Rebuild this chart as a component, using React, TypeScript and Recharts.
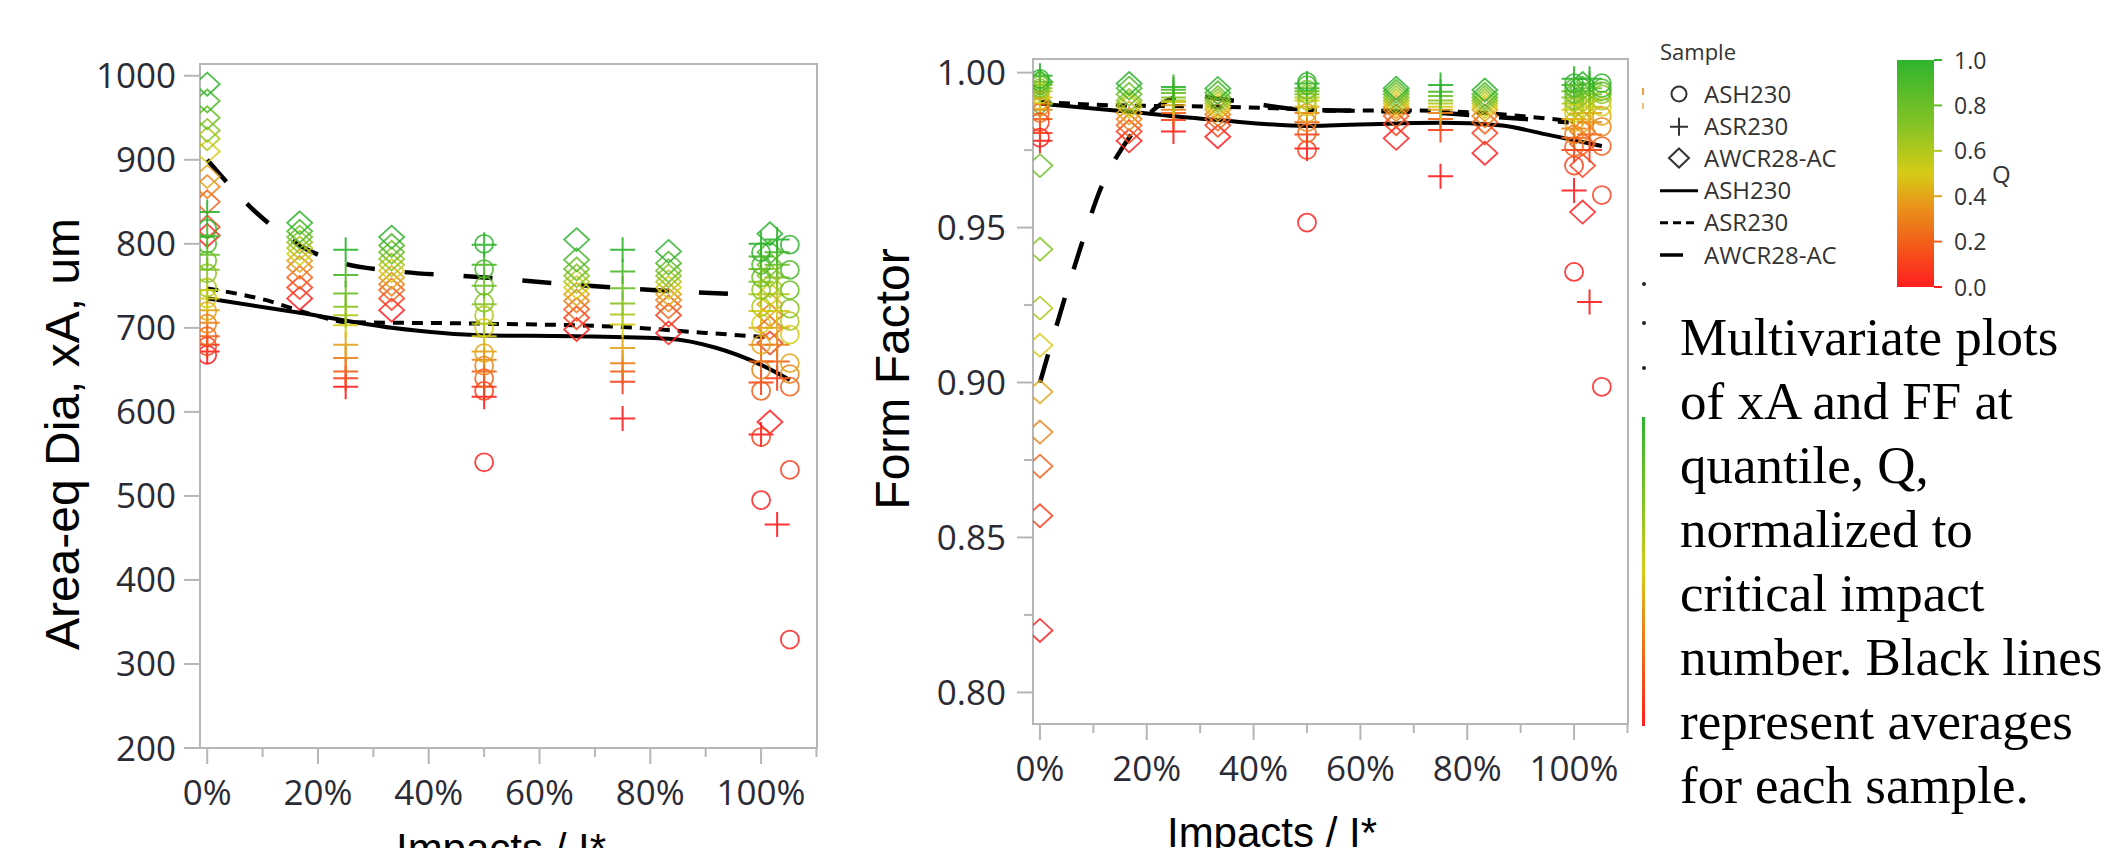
import React from "react";
import { ComposedChart, Scatter, Line, XAxis, YAxis, ReferenceArea } from "recharts";

// quantile levels used for colouring (0 = red, 1 = green)
const Q_LEVELS = [0, 0.1, 0.2, 0.3, 0.4, 0.5, 0.6, 0.7, 0.8, 0.9, 1.0];

// Impacts / I* (%) of each column per sample
const ASH_X = [0, 50, 100, 105.2];
const ASR_X = [0, 25, 50, 75, 100, 102.9];
const AWCR_X = [0, 16.7, 33.3, 66.7, 83.3, 101.6];

// Area-eq diameter xA (um), one row per column, Q low -> high
const ASH_XA = [
  [668, 678, 690, 705, 720, 735, 748, 765, 780, 800, 818],
  [540, 625, 640, 655, 670, 700, 715, 730, 750, 770, 800],
  [495, 570, 625, 650, 680, 705, 725, 745, 760, 775, 790],
  [329, 531, 630, 645, 658, 692, 708, 723, 745, 769, 799],
];
const ASR_XA = [
  [672, 680, 690, 706, 721, 735, 745, 769, 787, 809, 838],
  [630, 640, 648, 664, 680, 703, 715, 725, 741, 763, 793],
  [618, 630, 648, 662, 672, 690, 705, 728, 750, 775, 799],
  [592, 636, 648, 658, 676, 704, 716, 729, 747, 767, 793],
  [573, 635, 660, 680, 700, 720, 740, 755, 770, 785, 800],
  [466, 640, 660, 680, 700, 720, 740, 760, 775, 790, 805],
];
const AWCR_XA = [
  [810, 820, 850, 868, 880, 910, 925, 935, 950, 970, 990],
  [735, 748, 760, 772, 780, 788, 795, 802, 808, 815, 825],
  [721, 735, 745, 752, 760, 768, 775, 782, 790, 798, 808],
  [698, 712, 722, 732, 740, 748, 755, 762, 770, 781, 805],
  [694, 715, 725, 733, 740, 748, 755, 762, 768, 777, 791],
  [588, 682, 700, 715, 728, 740, 750, 762, 775, 790, 812],
];

// Form factor, same layout
const ASH_FF = [
  [0.979, 0.984, 0.987, 0.989, 0.991, 0.993, 0.994, 0.995, 0.996, 0.997, 0.998],
  [0.9516, 0.975, 0.9805, 0.984, 0.987, 0.989, 0.991, 0.993, 0.9945, 0.996, 0.997],
  [0.9357, 0.97, 0.976, 0.98, 0.984, 0.987, 0.989, 0.991, 0.993, 0.995, 0.9966],
  [0.8986, 0.9605, 0.9763, 0.9825, 0.986, 0.989, 0.991, 0.993, 0.994, 0.995, 0.9966],
];
const ASR_FF = [
  [0.978, 0.9805, 0.985, 0.988, 0.99, 0.992, 0.994, 0.995, 0.996, 0.997, 0.999],
  [0.981, 0.9847, 0.987, 0.988, 0.9895, 0.9905, 0.991, 0.992, 0.9934, 0.9945, 0.9954],
  [0.9755, 0.98, 0.984, 0.987, 0.989, 0.991, 0.992, 0.993, 0.994, 0.995, 0.9965],
  [0.9666, 0.9815, 0.985, 0.987, 0.988, 0.989, 0.99, 0.991, 0.9925, 0.9938, 0.996],
  [0.962, 0.975, 0.979, 0.982, 0.985, 0.988, 0.99, 0.992, 0.994, 0.996, 0.998],
  [0.926, 0.975, 0.98, 0.984, 0.987, 0.989, 0.991, 0.993, 0.995, 0.9965, 0.998],
];
const AWCR_FF = [
  [0.82, 0.857, 0.873, 0.884, 0.897, 0.912, 0.924, 0.943, 0.97, 0.99, 0.997],
  [0.978, 0.981, 0.983, 0.985, 0.987, 0.989, 0.99, 0.991, 0.993, 0.995, 0.9965],
  [0.9793, 0.983, 0.985, 0.9865, 0.988, 0.989, 0.99, 0.991, 0.992, 0.9935, 0.9949],
  [0.9788, 0.9835, 0.986, 0.988, 0.989, 0.99, 0.991, 0.992, 0.993, 0.994, 0.995],
  [0.974, 0.9805, 0.984, 0.986, 0.988, 0.989, 0.99, 0.991, 0.992, 0.993, 0.9944],
  [0.955, 0.97, 0.977, 0.981, 0.984, 0.987, 0.989, 0.991, 0.993, 0.995, 0.9965],
];

// averages (black lines)
const ASH_XA_AVG_X = [0, 16.7, 33.3, 50, 66.7, 83.3, 92, 100, 105.2];
const ASH_XA_AVG = [735, 718, 700, 691, 690, 687, 676, 656, 638];
const ASR_XA_AVG_X = [0, 10, 20, 25, 50, 75, 90, 101];
const ASR_XA_AVG = [747, 734, 714, 707, 705, 701, 694, 689];
const AWCR_XA_AVG_X = [0, 8.9, 16.7, 25, 33.3, 50, 66.7, 83.3, 99];
const AWCR_XA_AVG = [900, 837, 798, 776, 768, 760, 751, 744, 739];

const ASH_FF_AVG_X = [0, 16.7, 33.3, 50, 66.7, 75, 86, 95, 105.2];
const ASH_FF_AVG = [0.99, 0.9874, 0.9847, 0.9828, 0.9836, 0.9838, 0.983, 0.98, 0.9763];
const ASR_FF_AVG_X = [0, 13, 33.3, 44, 55, 67, 83, 92, 100];
const ASR_FF_AVG = [0.9906, 0.9895, 0.989, 0.9885, 0.9877, 0.9878, 0.987, 0.9857, 0.9843];
const AWCR_FF_AVG_X = [0, 7.5, 11, 16.7, 22, 27.5, 36, 50, 60, 75, 83, 99];
const AWCR_FF_AVG = [0.9, 0.943, 0.961, 0.979, 0.989, 0.9925, 0.991, 0.988, 0.9877, 0.987, 0.986, 0.984];

const X_TICKS = [0, 10, 20, 30, 40, 50, 60, 70, 80, 90, 100, 110];
const XA_TICKS = [200, 300, 400, 500, 600, 700, 800, 900, 1000];
const FF_TICKS = [0.8, 0.825, 0.85, 0.875, 0.9, 0.925, 0.95, 0.975, 1.0];
const Q_TICKS = [0, 0.2, 0.4, 0.6, 0.8, 1.0];

const CAPTION = [
  "Multivariate plots",
  "of xA and FF at",
  "quantile, Q,",
  "normalized to",
  "critical impact",
  "number. Black lines",
  "represent averages",
  "for each sample.",
];

const X_DOMAIN: [number, number] = [-1.3, 110.1];
const AXIS = "#b6b6b6";
const TICK_TEXT = "#2b2b36";
const TICK_FONT = "'Open Sans', 'Noto Sans', sans-serif";
const TITLE_FONT = "'Liberation Sans', Arial, sans-serif";

type Pt = { x: number; y: number; q: number };

function columns(xs: number[], rows: number[][]): Pt[] {
  return xs.flatMap((x, i) => rows[i].map((y, j) => ({ x, y, q: Q_LEVELS[j] })));
}
function avg(xs: number[], ys: number[]) {
  return xs.map((x, i) => ({ x, y: ys[i] }));
}

const STOPS: [number, number[]][] = [
  [0, [255, 30, 30]],
  [0.2, [242, 96, 26]],
  [0.35, [234, 146, 26]],
  [0.5, [214, 204, 22]],
  [0.7, [138, 196, 36]],
  [1, [46, 180, 46]],
];
function qColor(q: number) {
  for (let i = 1; i < STOPS.length; i++) {
    const [q1, c1] = STOPS[i];
    const [q0, c0] = STOPS[i - 1];
    if (q <= q1) {
      const t = (q - q0) / (q1 - q0);
      const c = c0.map((v, k) => Math.round(v + (c1[k] - v) * t));
      return `rgb(${c[0]},${c[1]},${c[2]})`;
    }
  }
  return "rgb(46,180,46)";
}

const marker = (kind: "circle" | "plus" | "diamond") => (props: any) => {
  const { cx, cy, payload } = props;
  if (cx == null || cy == null) return <g />;
  const c = qColor(payload.q);
  if (kind === "circle")
    return <circle cx={cx} cy={cy} r={9} fill="none" stroke={c} strokeWidth={1.8} opacity={0.85} />;
  if (kind === "plus")
    return (
      <path
        d={`M${cx - 12.5},${cy}H${cx + 12.5}M${cx},${cy - 12.5}V${cy + 12.5}`}
        stroke={c}
        strokeWidth={2}
        opacity={0.9}
      />
    );
  return (
    <path
      d={`M${cx},${cy - 11.5}L${cx + 12.5},${cy}L${cx},${cy + 11.5}L${cx - 12.5},${cy}Z`}
      fill="none"
      stroke={c}
      strokeWidth={1.8}
      opacity={0.85}
    />
  );
};

function XTick({ x, y, payload }: any) {
  const v = payload.value;
  const major = v % 20 === 0 && v <= 100;
  return (
    <g>
      <line x1={x} x2={x} y1={y} y2={y + (major ? 16 : 9)} stroke={AXIS} strokeWidth={2} />
      {major && (
        <text x={x} y={y + 57} textAnchor="middle" fontSize={35} fontFamily={TICK_FONT} fill={TICK_TEXT}>
          {v}%
        </text>
      )}
    </g>
  );
}

function XaTick({ x, y, payload }: any) {
  return (
    <g>
      <line x1={x - 16} x2={x} y1={y} y2={y} stroke={AXIS} strokeWidth={2} />
      <text x={x - 24} y={y + 12.5} textAnchor="end" fontSize={35} fontFamily={TICK_FONT} fill={TICK_TEXT}>
        {payload.value}
      </text>
    </g>
  );
}

function FfTick({ x, y, payload }: any) {
  const v = payload.value;
  const major = Math.round(v * 1000) % 50 === 0;
  return (
    <g>
      <line x1={x - (major ? 16 : 9)} x2={x} y1={y} y2={y} stroke={AXIS} strokeWidth={2} />
      {major && (
        <text x={x - 27} y={y + 12.5} textAnchor="end" fontSize={35} fontFamily={TICK_FONT} fill={TICK_TEXT}>
          {v.toFixed(2)}
        </text>
      )}
    </g>
  );
}

function SeriesLines({ ash, asr, awcr }: { ash: any[]; asr: any[]; awcr: any[] }) {
  return null;
}

const xaPts = {
  ash: columns(ASH_X, ASH_XA),
  asr: columns(ASR_X, ASR_XA),
  awcr: columns(AWCR_X, AWCR_XA),
};
const ffPts = {
  ash: columns(ASH_X, ASH_FF),
  asr: columns(ASR_X, ASR_FF),
  awcr: columns(AWCR_X, AWCR_FF),
};

function Panel({
  width,
  margin,
  yDomain,
  yTicks,
  yTick,
  pts,
  lines,
}: {
  width: number;
  margin: any;
  yDomain: [number, number];
  yTicks: number[];
  yTick: any;
  pts: { ash: Pt[]; asr: Pt[]; awcr: Pt[] };
  lines: { ash: any[]; asr: any[]; awcr: any[] };
}) {
  return (
    <ComposedChart width={width} height={848} margin={margin}>
      <XAxis
        type="number"
        dataKey="x"
        domain={X_DOMAIN}
        ticks={X_TICKS}
        interval={0}
        height={60}
        tickSize={0}
        tickMargin={0}
        tickLine={false}
        axisLine={{ stroke: AXIS, strokeWidth: 2 }}
        tick={<XTick />}
        allowDataOverflow
      />
      <YAxis
        type="number"
        dataKey="y"
        domain={yDomain}
        ticks={yTicks}
        interval={0}
        width={120}
        tickSize={0}
        tickMargin={0}
        tickLine={false}
        axisLine={{ stroke: AXIS, strokeWidth: 2 }}
        tick={yTick}
        allowDataOverflow
      />
      <ReferenceArea
        x1={X_DOMAIN[0]}
        x2={X_DOMAIN[1]}
        y1={yDomain[0]}
        y2={yDomain[1]}
        fill="none"
        stroke={AXIS}
        strokeWidth={2}
        ifOverflow="visible"
      />
      <Scatter data={pts.awcr} dataKey="y" shape={marker("diamond")} isAnimationActive={false} />
      <Scatter data={pts.asr} dataKey="y" shape={marker("plus")} isAnimationActive={false} />
      <Scatter data={pts.ash} dataKey="y" shape={marker("circle")} isAnimationActive={false} />
      <Line
        data={lines.ash}
        dataKey="y"
        type="monotone"
        stroke="#000"
        strokeWidth={4}
        dot={false}
        isAnimationActive={false}
      />
      <Line
        data={lines.asr}
        dataKey="y"
        type="monotone"
        stroke="#000"
        strokeWidth={4}
        strokeDasharray="11 8"
        dot={false}
        isAnimationActive={false}
      />
      <Line
        data={lines.awcr}
        dataKey="y"
        type="monotone"
        stroke="#000"
        strokeWidth={4.5}
        strokeDasharray="29 30"
        dot={false}
        isAnimationActive={false}
      />
    </ComposedChart>
  );
}

const LEGEND_ROWS = [94, 126.7, 158, 190.7, 222.7, 255];

export default function App() {
  return (
    <div
      style={{
        position: "absolute",
        left: 0,
        top: 0,
        width: 2107,
        height: 848,
        background: "#fff",
        overflow: "hidden",
      }}
    >
      <div style={{ position: "absolute", left: 0, top: 0 }}>
        <Panel
          width={830}
          margin={{ top: 64, right: 13, bottom: 40, left: 80 }}
          yDomain={[200, 1014]}
          yTicks={XA_TICKS}
          yTick={<XaTick />}
          pts={xaPts}
          lines={{
            ash: avg(ASH_XA_AVG_X, ASH_XA_AVG),
            asr: avg(ASR_XA_AVG_X, ASR_XA_AVG),
            awcr: avg(AWCR_XA_AVG_X, AWCR_XA_AVG),
          }}
        />
      </div>
      <div style={{ position: "absolute", left: 830, top: 0 }}>
        <Panel
          width={820}
          margin={{ top: 59, right: 22, bottom: 64, left: 83 }}
          yDomain={[0.7898, 1.0044]}
          yTicks={FF_TICKS}
          yTick={<FfTick />}
          pts={ffPts}
          lines={{
            ash: avg(ASH_FF_AVG_X, ASH_FF_AVG),
            asr: avg(ASR_FF_AVG_X, ASR_FF_AVG),
            awcr: avg(AWCR_FF_AVG_X, AWCR_FF_AVG),
          }}
        />
      </div>

      {/* titles, legend, colour bar and caption */}
      <svg
        width={2107}
        height={848}
        style={{ position: "absolute", left: 0, top: 0, pointerEvents: "none" }}
      >
        <defs>
          <linearGradient id="qbar" x1="0" y1="1" x2="0" y2="0">
            {STOPS.map(([q]) => (
              <stop key={q} offset={`${q * 100}%`} stopColor={qColor(q)} />
            ))}
          </linearGradient>
        </defs>

        <text
          x={62}
          y={434}
          transform="rotate(-90 62 434)"
          textAnchor="middle"
          dominantBaseline="central"
          fontSize={48}
          fontFamily={TITLE_FONT}
          fill="#000"
        >
          Area-eq Dia, xA, um
        </text>
        <text
          x={892}
          y={379}
          transform="rotate(-90 892 379)"
          textAnchor="middle"
          dominantBaseline="central"
          fontSize={48}
          fontFamily={TITLE_FONT}
          fill="#000"
        >
          Form Factor
        </text>
        <text x={501} y={863} textAnchor="middle" fontSize={42} fontFamily={TITLE_FONT} fill="#000">
          Impacts / I*
        </text>
        <text x={1272} y={847} textAnchor="middle" fontSize={42} fontFamily={TITLE_FONT} fill="#000">
          Impacts / I*
        </text>

        {/* sample legend */}
        <g fontFamily={TICK_FONT} fill="#333">
          <text x={1660} y={60} fontSize={22}>
            Sample
          </text>
          <circle cx={1679} cy={LEGEND_ROWS[0]} r={7.5} fill="none" stroke="#333" strokeWidth={2} />
          <path
            d={`M1670,${LEGEND_ROWS[1]}H1688M1679,${LEGEND_ROWS[1] - 9}V${LEGEND_ROWS[1] + 9}`}
            stroke="#333"
            strokeWidth={2}
          />
          <path
            d={`M1679,${LEGEND_ROWS[2] - 9.5}L1689,${LEGEND_ROWS[2]}L1679,${LEGEND_ROWS[2] + 9.5}L1669,${LEGEND_ROWS[2]}Z`}
            fill="none"
            stroke="#333"
            strokeWidth={2}
          />
          <line x1={1660} x2={1698} y1={LEGEND_ROWS[3]} y2={LEGEND_ROWS[3]} stroke="#000" strokeWidth={3} />
          <line
            x1={1660}
            x2={1698}
            y1={LEGEND_ROWS[4]}
            y2={LEGEND_ROWS[4]}
            stroke="#000"
            strokeWidth={3}
            strokeDasharray="8 5"
          />
          <line x1={1660} x2={1683} y1={LEGEND_ROWS[5]} y2={LEGEND_ROWS[5]} stroke="#000" strokeWidth={3.5} />
          {["ASH230", "ASR230", "AWCR28-AC", "ASH230", "ASR230", "AWCR28-AC"].map((t, i) => (
            <text key={i} x={1704} y={LEGEND_ROWS[i] + 8.5} fontSize={24}>
              {t}
            </text>
          ))}
        </g>

        {/* Q colour bar */}
        <rect x={1897} y={60} width={37} height={227} fill="url(#qbar)" />
        {Q_TICKS.map((q) => (
          <g key={q}>
            <line x1={1934} x2={1942} y1={287 - q * 227} y2={287 - q * 227} stroke={qColor(q)} strokeWidth={2} />
            <text x={1954} y={287 - q * 227 + 8.5} fontSize={23} fontFamily={TICK_FONT} fill="#333">
              {q.toFixed(1)}
            </text>
          </g>
        ))}
        <text x={1992} y={183} fontSize={24} fontFamily={TICK_FONT} fill="#333">
          Q
        </text>

        {/* cropped remnants at the right edge of the second plot */}
        <rect x={1642} y={88} width={2} height={7} fill="#f0a040" />
        <rect x={1642} y={103} width={2} height={6} fill="#f0c070" />
        <circle cx={1644} cy={284} r={2} fill="#222" />
        <circle cx={1644} cy={323} r={2} fill="#222" />
        <circle cx={1644} cy={368} r={2} fill="#222" />
        <rect x={1642} y={417} width={3} height={309} fill="url(#qbar)" />

        {/* caption */}
        <g fontFamily="'Liberation Serif', 'Times New Roman', serif" fontSize={53} fill="#000">
          {CAPTION.map((line, i) => (
            <text key={i} x={1680} y={355 + i * 64}>
              {line}
            </text>
          ))}
        </g>
      </svg>
    </div>
  );
}
